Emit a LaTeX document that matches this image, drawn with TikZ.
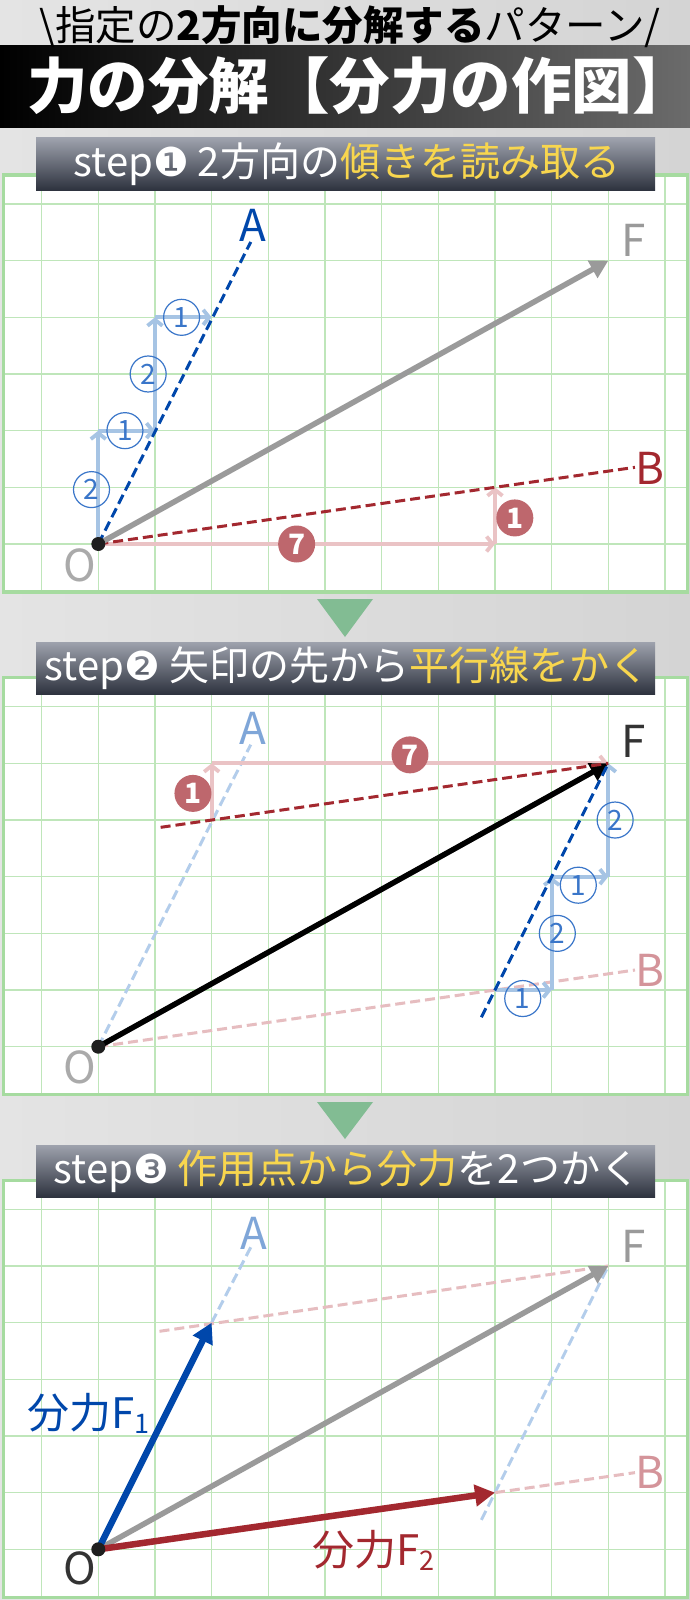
\documentclass[tikz,border=0pt]{standalone}
\usepackage{fontspec}
\setmainfont{Noto Sans CJK JP}
\newfontfamily\dvfont{DejaVu Sans}
\usetikzlibrary{arrows.meta,calc}
\definecolor{bgL}{HTML}{E4E4E4}
\definecolor{bgR}{HTML}{D4D4D4}
\definecolor{barR}{HTML}{6B6B6B}
\definecolor{gridg}{HTML}{BFE6BA}
\definecolor{panelg}{HTML}{A6DBA0}
\definecolor{trig}{HTML}{82BC93}
\definecolor{stepT}{HTML}{9EA2AD}
\definecolor{stepB}{HTML}{2E333F}
\definecolor{ylw}{HTML}{F8D64E}
\definecolor{dblue}{HTML}{0047AB}
\definecolor{stairblue}{HTML}{A6C4E4}
\definecolor{fadeblue}{HTML}{B3CDEB}
\definecolor{labblue}{HTML}{7FA6D8}
\definecolor{cblue}{HTML}{3A76C9}
\definecolor{dred}{HTML}{A3282F}
\definecolor{stairred}{HTML}{EAC3C5}
\definecolor{fadered}{HTML}{E6BDC0}
\definecolor{labred}{HTML}{D4949A}
\definecolor{cred}{HTML}{BE676D}
\definecolor{fgray}{HTML}{9A9A9A}
\definecolor{labgray}{HTML}{AAAAAA}
\definecolor{dark}{HTML}{333333}
\tikzset{
  gridline/.style={draw=gridg, line width=1.4pt},
  panelbox/.style={draw=panelg, line width=3.5pt},
  panelat/.style={shift={(98.3pt,-#1pt)}, x=56.67pt, y=56.67pt},
  stairB/.style={draw=stairblue, line width=3.8pt, -{Straight Barb[length=6pt,width=15pt]}},
  stairR/.style={draw=stairred, line width=3.8pt, -{Straight Barb[length=6pt,width=15pt]}},
  dashA/.style={draw=dblue, line width=3pt, dash pattern=on 10pt off 5pt},
  dashB/.style={draw=dred, line width=3pt, dash pattern=on 10pt off 5pt},
  fadeA/.style={draw=fadeblue, line width=3pt, dash pattern=on 10pt off 5pt},
  fadeB/.style={draw=fadered, line width=3pt, dash pattern=on 10pt off 5pt},
  forceF/.style={draw=fgray, line width=5.5pt, -{Triangle[length=18pt,width=19pt]}},
  forceK/.style={draw=black, line width=5.5pt, -{Triangle[length=18pt,width=19pt]}},
  forceA/.style={draw=dblue, line width=6.5pt, -{Triangle[length=20pt,width=21pt]}},
  forceB/.style={draw=dred, line width=6.5pt, -{Triangle[length=20pt,width=21pt]}},
  cnum/.style={circle, draw=cblue, line width=1.2pt, minimum size=36pt, inner sep=0pt, text=cblue, font=\fontsize{28}{28}\selectfont},
  rnum/.style={circle, fill=cred, minimum size=37pt, inner sep=0pt, text=white, font=\fontsize{28}{28}\selectfont\bfseries},
  ptlab/.style={font=\fontsize{44}{44}\selectfont, inner sep=0pt},
  stepbox/.style={top color=stepT, bottom color=stepB},
  steptext/.style={text=white, font=\fontsize{40}{40}\selectfont, inner sep=0pt},
  odot/.style={fill=black!88},
}
\newcommand\drawpanelbg{%
  \fill[white] (-95pt,-48pt) rectangle (589.2pt,369pt);
  \begin{scope}
    \clip (-95pt,-48pt) rectangle (589.2pt,369pt);
    \foreach \i in {-1,...,10} \draw[gridline] (\i,-1) -- (\i,7);
    \foreach \j in {0,...,6} \draw[gridline] (-2,\j) -- (11,\j);
  \end{scope}
  \draw[panelbox] (-95pt,-48pt) rectangle (589.2pt,369pt);}
\begin{document}
\begin{tikzpicture}[x=1pt,y=-1pt]
\useasboundingbox (0,0) rectangle (690,1600);
\shade[left color=bgL, right color=bgR] (0,0) rectangle (690,1600);
% title
\shade[left color=black, right color=barR] (0,46) rectangle (690,128);
\node[font=\fontsize{40.5}{40.5}\selectfont, inner sep=0pt] (sub) at (350,27) {\textbackslash 指定の\textbf{2方向に分解する}パターン/};
\node[font=\fontsize{60.5}{60.5}\selectfont\bfseries, text=white, inner sep=0pt] (title) at (360,86) {力の分解【分力の作図】};

% ===== panel 1 =====
\begin{scope}[panelat=544]
  \drawpanelbg
  \coordinate (O1) at (0,0); \coordinate (A1) at (2.69,5.33);
  \coordinate (F1) at (9,5); \coordinate (B1) at (9.47,1.353);
  \coordinate (r1a) at (7,0); \coordinate (r1b) at (7,1);
  \coordinate (s1a) at (0,2); \coordinate (s1b) at (1,2);
  \coordinate (s1c) at (1,4); \coordinate (s1d) at (2,4);
  \draw[stairR] (O1) -- (r1a); \draw[stairR] (r1a) -- (r1b);
  \draw[stairB] (O1) -- (s1a); \draw[stairB] (s1a) -- (s1b);
  \draw[stairB] (s1b) -- (s1c); \draw[stairB] (s1c) -- (s1d);
  \draw[dashB] (O1) -- (B1);
  \draw[forceF] (O1) -- (F1);
  \draw[dashA] (O1) -- (A1);
  \node[cnum] (c11) at (-0.12,0.96) {2};
  \node[cnum] (c12) at (0.47,2.0) {1};
  \node[cnum] (c13) at (0.88,3.0) {2};
  \node[cnum] (c14) at (1.47,4.0) {1};
  \node[rnum] (n17) at (3.5,0.0) {7};
  \node[rnum] (n11) at (7.35,0.46) {1};
  \fill[odot] (O1) circle (7pt);
  \node[ptlab, text=labgray] (lO1) at (-0.32,-0.37) {O};
  \node[ptlab, text=dblue] (lA1) at (2.72,5.63) {A};
  \node[ptlab, text=fgray] (lF1) at (9.44,5.36) {F};
  \node[ptlab, text=dred] (lB1) at (9.74,1.34) {B};
\end{scope}
\shade[stepbox] (36,138) rectangle (655,190);
\node[steptext] (st1) at (347,164) {step{\dvfont ❶} 2方向の\textcolor{ylw}{傾きを読み取る}};

\fill[trig] (317,599) -- (373,599) -- (345,637) -- cycle;

% ===== panel 2 =====
\begin{scope}[panelat=1046.7]
  \drawpanelbg
  \coordinate (O2) at (0,0); \coordinate (A2) at (2.69,5.33);
  \coordinate (F2) at (9,5); \coordinate (B2) at (9.47,1.353);
  \coordinate (r2a) at (2,4); \coordinate (r2b) at (2,5);
  \coordinate (s2o) at (7,1); \coordinate (s2a) at (8,1); \coordinate (s2b) at (8,3);
  \coordinate (s2c) at (9,3);
  \coordinate (pB) at (1.1,3.871); \coordinate (pA) at (6.76,0.52);
  \draw[fadeA] (O2) -- (A2);
  \draw[fadeB] (O2) -- (B2);
  \draw[stairR] (r2a) -- (r2b); \draw[stairR] (r2b) -- (F2);
  \draw[stairB] (s2o) -- (s2a); \draw[stairB] (s2a) -- (s2b);
  \draw[stairB] (s2b) -- (s2c); \draw[stairB] (s2c) -- (F2);
  \draw[forceK] (O2) -- (F2);
  \draw[dashB] (pB) -- (F2);
  \draw[dashA] (pA) -- (F2);
  \node[cnum] (c21) at (7.49,0.85) {1};
  \node[cnum] (c22) at (8.1,2.0) {2};
  \node[cnum] (c23) at (8.47,2.85) {1};
  \node[cnum] (c24) at (9.12,4.0) {2};
  \node[rnum] (n21) at (1.67,4.47) {1};
  \node[rnum] (n27) at (5.5,5.15) {7};
  \fill[odot] (O2) circle (7pt);
  \node[ptlab, text=labgray] (lO2) at (-0.32,-0.37) {O};
  \node[ptlab, text=labblue] (lA2) at (2.72,5.62) {A};
  \node[ptlab, text=dark] (lF2) at (9.44,5.39) {F};
  \node[ptlab, text=labred] (lB2) at (9.74,1.35) {B};
\end{scope}
\shade[stepbox] (36,642) rectangle (655,694);
\node[steptext] (st2) at (347,668) {step{\dvfont ❷} 矢印の先から\textcolor{ylw}{平行線をかく}};

\fill[trig] (317,1102) -- (373,1102) -- (345,1139) -- cycle;

% ===== panel 3 =====
\begin{scope}[panelat=1549.3]
  \drawpanelbg
  \coordinate (O3) at (0,0); \coordinate (A3) at (2.69,5.33);
  \coordinate (F3) at (9,5); \coordinate (B3) at (9.47,1.353);
  \coordinate (P1) at (2,4); \coordinate (P2) at (7,1);
  \coordinate (qB) at (1.08,3.847); \coordinate (qA) at (6.76,0.52);
  \draw[fadeA] (P1) -- (A3);
  \draw[fadeB] (qB) -- (F3);
  \draw[fadeA] (qA) -- (F3);
  \draw[fadeB] (P2) -- (B3);
  \draw[forceF] (O3) -- (F3);
  \draw[forceA] (O3) -- (P1);
  \draw[forceB] (O3) -- (P2);
  \fill[odot] (O3) circle (7pt);
  \node[ptlab, text=dark] (lO3) at (-0.32,-0.33) {O};
  \node[ptlab, text=labblue] (lA3) at (2.75,5.58) {A};
  \node[ptlab, text=fgray] (lF3) at (9.44,5.35) {F};
  \node[ptlab, text=labred] (lB3) at (9.74,1.35) {B};
  \node[anchor=base west, inner sep=0pt, text=dblue, font=\fontsize{42}{42}\selectfont] (f1) at (-1.26,2.14) {分力F\raisebox{-5pt}{\fontsize{27}{27}\selectfont 1}};
  \node[anchor=base west, inner sep=0pt, text=dred, font=\fontsize{42}{42}\selectfont] (f2) at (3.77,-0.28) {分力F\raisebox{-5pt}{\fontsize{27}{27}\selectfont 2}};
\end{scope}
\shade[stepbox] (36,1145) rectangle (655,1197);
\node[steptext] (st3) at (347,1171) {step{\dvfont ❸} \textcolor{ylw}{作用点から分力}を2つかく};
\end{tikzpicture}
\end{document}
